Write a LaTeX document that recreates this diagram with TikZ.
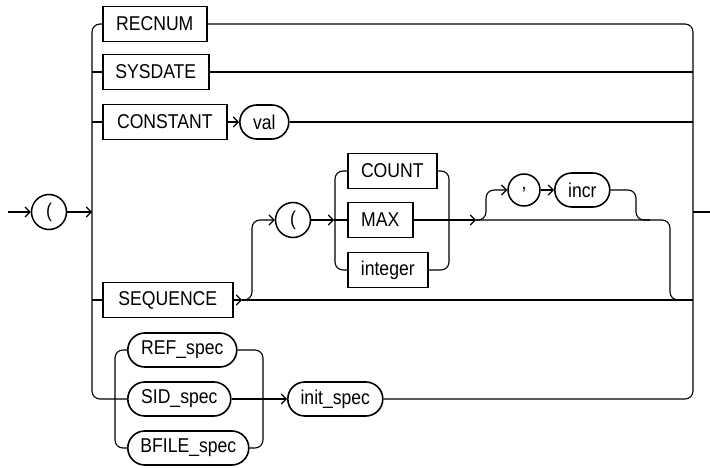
\documentclass[tikz,border=0pt]{standalone}
\usepackage{fontspec}
\setmainfont{Liberation Sans}[FakeStretch=0.88]
\usetikzlibrary{arrows.meta,positioning}
\tikzset{
  kw/.style   = {rectangle, draw, line width=1.6pt, minimum height=35pt, inner sep=0pt,
                 anchor=west, font=\fontsize{20}{22}\selectfont},
  nt/.style   = {rounded rectangle=17pt, draw, line width=1.6pt, minimum height=34pt,
                 inner sep=0pt, anchor=west, font=\fontsize{20}{22}\selectfont},
  op/.style   = {circle, draw, line width=1.5pt, minimum size=35pt, inner sep=0pt,
                 font=\fontsize{20}{22}\selectfont},
  ln/.style   = {line width=1.1pt, rounded corners=8pt},
  ar/.style   = {ln, -{Straight Barb[length=5pt,width=10pt]}},
  rounded rectangle/.style = {rectangle, rounded corners=#1},
}
\begin{document}
\begin{tikzpicture}[x=1pt, y=-1pt]
  \useasboundingbox (0,0) rectangle (710,468);

  \coordinate (in)   at (8,212);
  \coordinate (out)  at (710,212);
  \node[op] (lp1) at (49,212) {(};

  % first column of choices
  \node[kw, minimum width=104pt] (recnum)   at (102,24)  {RECNUM};
  \node[kw, minimum width=106pt] (sysdate)  at (102,72)  {SYSDATE};
  \node[kw, minimum width=124pt] (constant) at (102,122) {CONSTANT};
  \node[nt, minimum width=49pt]  (val)      at (239,122) {val};
  \node[kw, minimum width=130pt] (sequence) at (102,300) {SEQUENCE};

  % sequence part
  \node[op] (lp2) at (293,220) {(};
  \node[kw, minimum width=89pt] (count)   at (347,171) {COUNT};
  \node[kw, minimum width=65pt] (max)     at (347,220) {MAX};
  \node[kw, minimum width=80pt] (integer) at (347,270) {integer};
  \node[op, minimum size=32pt] (comma) at (524,190) {,};
  \node[nt, minimum width=55pt] (incr) at (554,190) {incr};

  % spec part
  \node[nt, minimum width=109pt] (refspec)   at (127,350) {REF\_spec};
  \node[nt, minimum width=103pt] (sidspec)   at (127,399) {SID\_spec};
  \node[nt, minimum width=121pt] (bfilespec) at (127,448) {BFILE\_spec};
  \node[nt, minimum width=95pt]  (initspec)  at (287,399) {init\_spec};

  \coordinate (lv)   at (92,212);
  \coordinate (seqj) at (242,300);
  \coordinate (chj)  at (334,220);
  \coordinate (maxj) at (476,220);
  \coordinate (rv)   at (693,212);

  \draw[ar] (in) -- (lp1);
  \draw[ar] (lp1) -- (lv);
  \draw[ln] (recnum.west) -- (92,24) -- (92,399) -- (sidspec.west);
  \draw[ln] (92,72) -- (sysdate.west);
  \draw[ln] (92,122) -- (constant.west);
  \draw[ln] (92,300) -- (sequence.west);

  \draw[ln] (recnum.east) -- (693,24) -- (693,399) -- (initspec.east);
  \draw[ln] (sysdate.east) -- (693,72);
  \draw[ar] (constant) -- (val);
  \draw[ln] (val.east) -- (693,122);
  \draw[ln] (rv) -- (out);

  \draw[ar] (sequence) -- (seqj);
  \draw[ln] (seqj) -- (693,300);
  \draw[ar] (seqj) -- (252,300) -- (252,220) -- (lp2);
  \draw[ar] (lp2) -- (chj);
  \draw[ln] (chj) -- (max);
  \draw[ln] (count.west) -- (335,171) -- (335,270) -- (integer.west);
  \draw[ln] (count.east) -- (449,171) -- (449,270) -- (integer.east);
  \draw[ar] (max) -- (maxj);
  \draw[ln] (maxj) -- (670,220) -- (670,300) -- (690,300);
  \draw[ar] (maxj) -- (486,220) -- (486,190) -- (comma);
  \draw[ar] (comma) -- (incr);
  \draw[ln] (incr.east) -- (636,190) -- (636,220) -- (650,220);

  \draw[ln] (refspec.west) -- (115,350) -- (115,448) -- (bfilespec.west);
  \draw[ln] (refspec.east) -- (263,350) -- (263,448) -- (bfilespec.east);
  \draw[ar] (sidspec) -- (initspec);
\end{tikzpicture}
\end{document}
